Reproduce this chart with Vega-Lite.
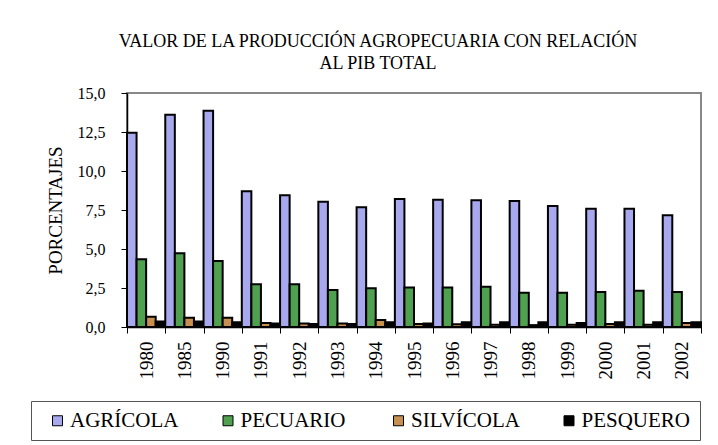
{
  "$schema": "https://vega.github.io/schema/vega-lite/v6.json",
  "width": 574,
  "height": 234,
  "autosize": {"type": "none"},
  "padding": {"left": 127, "top": 93, "right": 17, "bottom": 118},
  "background": "white",
  "title": {
    "text": ["VALOR DE LA PRODUCCIÓN AGROPECUARIA CON RELACIÓN", "AL PIB TOTAL"],
    "font": "Liberation Serif",
    "fontSize": 18,
    "fontWeight": "normal",
    "color": "black",
    "lineHeight": 22.5,
    "anchor": "middle",
    "frame": "group",
    "dx": -36,
    "offset": 12
  },
  "data": {
    "values": [
      {"anio": "1980", "sector": "AGRÍCOLA", "valor": 12.45},
      {"anio": "1980", "sector": "PECUARIO", "valor": 4.34},
      {"anio": "1980", "sector": "SILVÍCOLA", "valor": 0.65},
      {"anio": "1980", "sector": "PESQUERO", "valor": 0.35},
      {"anio": "1985", "sector": "AGRÍCOLA", "valor": 13.6},
      {"anio": "1985", "sector": "PECUARIO", "valor": 4.72},
      {"anio": "1985", "sector": "SILVÍCOLA", "valor": 0.6},
      {"anio": "1985", "sector": "PESQUERO", "valor": 0.35},
      {"anio": "1990", "sector": "AGRÍCOLA", "valor": 13.87},
      {"anio": "1990", "sector": "PECUARIO", "valor": 4.23},
      {"anio": "1990", "sector": "SILVÍCOLA", "valor": 0.6},
      {"anio": "1990", "sector": "PESQUERO", "valor": 0.3},
      {"anio": "1991", "sector": "AGRÍCOLA", "valor": 8.7},
      {"anio": "1991", "sector": "PECUARIO", "valor": 2.74},
      {"anio": "1991", "sector": "SILVÍCOLA", "valor": 0.25},
      {"anio": "1991", "sector": "PESQUERO", "valor": 0.22},
      {"anio": "1992", "sector": "AGRÍCOLA", "valor": 8.44},
      {"anio": "1992", "sector": "PECUARIO", "valor": 2.74},
      {"anio": "1992", "sector": "SILVÍCOLA", "valor": 0.22},
      {"anio": "1992", "sector": "PESQUERO", "valor": 0.2},
      {"anio": "1993", "sector": "AGRÍCOLA", "valor": 8.03},
      {"anio": "1993", "sector": "PECUARIO", "valor": 2.37},
      {"anio": "1993", "sector": "SILVÍCOLA", "valor": 0.22},
      {"anio": "1993", "sector": "PESQUERO", "valor": 0.2},
      {"anio": "1994", "sector": "AGRÍCOLA", "valor": 7.67},
      {"anio": "1994", "sector": "PECUARIO", "valor": 2.48},
      {"anio": "1994", "sector": "SILVÍCOLA", "valor": 0.45},
      {"anio": "1994", "sector": "PESQUERO", "valor": 0.3},
      {"anio": "1995", "sector": "AGRÍCOLA", "valor": 8.2},
      {"anio": "1995", "sector": "PECUARIO", "valor": 2.54},
      {"anio": "1995", "sector": "SILVÍCOLA", "valor": 0.2},
      {"anio": "1995", "sector": "PESQUERO", "valor": 0.22},
      {"anio": "1996", "sector": "AGRÍCOLA", "valor": 8.16},
      {"anio": "1996", "sector": "PECUARIO", "valor": 2.54},
      {"anio": "1996", "sector": "SILVÍCOLA", "valor": 0.18},
      {"anio": "1996", "sector": "PESQUERO", "valor": 0.3},
      {"anio": "1997", "sector": "AGRÍCOLA", "valor": 8.12},
      {"anio": "1997", "sector": "PECUARIO", "valor": 2.58},
      {"anio": "1997", "sector": "SILVÍCOLA", "valor": 0.15},
      {"anio": "1997", "sector": "PESQUERO", "valor": 0.3},
      {"anio": "1998", "sector": "AGRÍCOLA", "valor": 8.08},
      {"anio": "1998", "sector": "PECUARIO", "valor": 2.2},
      {"anio": "1998", "sector": "SILVÍCOLA", "valor": 0.12},
      {"anio": "1998", "sector": "PESQUERO", "valor": 0.3},
      {"anio": "1999", "sector": "AGRÍCOLA", "valor": 7.76},
      {"anio": "1999", "sector": "PECUARIO", "valor": 2.2},
      {"anio": "1999", "sector": "SILVÍCOLA", "valor": 0.15},
      {"anio": "1999", "sector": "PESQUERO", "valor": 0.25},
      {"anio": "2000", "sector": "AGRÍCOLA", "valor": 7.58},
      {"anio": "2000", "sector": "PECUARIO", "valor": 2.24},
      {"anio": "2000", "sector": "SILVÍCOLA", "valor": 0.2},
      {"anio": "2000", "sector": "PESQUERO", "valor": 0.3},
      {"anio": "2001", "sector": "AGRÍCOLA", "valor": 7.58},
      {"anio": "2001", "sector": "PECUARIO", "valor": 2.33},
      {"anio": "2001", "sector": "SILVÍCOLA", "valor": 0.15},
      {"anio": "2001", "sector": "PESQUERO", "valor": 0.3},
      {"anio": "2002", "sector": "AGRÍCOLA", "valor": 7.16},
      {"anio": "2002", "sector": "PECUARIO", "valor": 2.24},
      {"anio": "2002", "sector": "SILVÍCOLA", "valor": 0.25},
      {"anio": "2002", "sector": "PESQUERO", "valor": 0.3}
    ]
  },
  "mark": {"type": "bar", "stroke": "black", "strokeWidth": 2},
  "encoding": {
    "x": {
      "field": "anio",
      "type": "nominal",
      "sort": null,
      "scale": {"paddingInner": 0, "paddingOuter": 0},
      "axis": {
        "title": null,
        "labelAngle": -90,
        "labelFont": "Liberation Serif",
        "labelFontSize": 19,
        "labelColor": "black",
        "labelPadding": 8,
        "tickBand": "extent",
        "tickSize": 6,
        "tickColor": "black",
        "domainColor": "black",
        "domainWidth": 1.5
      }
    },
    "xOffset": {
      "field": "sector",
      "type": "nominal",
      "sort": ["AGRÍCOLA", "PECUARIO", "SILVÍCOLA", "PESQUERO"],
      "scale": {"paddingInner": 0, "paddingOuter": 0}
    },
    "y": {
      "field": "valor",
      "type": "quantitative",
      "scale": {"domain": [0, 15], "nice": false},
      "axis": {
        "title": "PORCENTAJES",
        "titleFont": "Liberation Serif",
        "titleFontSize": 19,
        "titleFontWeight": "normal",
        "titleColor": "black",
        "titlePadding": 12,
        "values": [0, 2.5, 5, 7.5, 10, 12.5, 15],
        "labelExpr": "replace(format(datum.value, '.1f'), '.', ',')",
        "labelFont": "Liberation Serif",
        "labelFontSize": 16,
        "labelColor": "black",
        "labelPadding": 16,
        "tickSize": 6,
        "tickColor": "black",
        "domainColor": "black",
        "domainWidth": 1.5,
        "grid": false
      }
    },
    "color": {
      "field": "sector",
      "type": "nominal",
      "sort": ["AGRÍCOLA", "PECUARIO", "SILVÍCOLA", "PESQUERO"],
      "scale": {
        "domain": ["AGRÍCOLA", "PECUARIO", "SILVÍCOLA", "PESQUERO"],
        "range": ["#a8a8ee", "#4fa04f", "#c89050", "#000000"]
      },
      "legend": {
        "orient": "none",
        "legendX": -96,
        "legendY": 308,
        "direction": "horizontal",
        "columns": 4,
        "gridAlign": "all",
        "columnPadding": 38.5,
        "title": " ",
        "titleOrient": "left",
        "titlePadding": 7,
        "titleFontSize": 10,
        "titleFont": "Liberation Serif",
        "padding": 9,
        "strokeColor": "#555555",
        "fillColor": "white",
        "symbolType": "square",
        "symbolSize": 100,
        "symbolStrokeColor": "black",
        "symbolStrokeWidth": 1,
        "symbolOpacity": 1,
        "labelFont": "Liberation Serif",
        "labelFontSize": 21,
        "labelColor": "black",
        "labelOffset": 2,
        "labelLimit": 300
      }
    }
  },
  "config": {
    "view": {"stroke": "#888888", "strokeWidth": 2}
  }
}
